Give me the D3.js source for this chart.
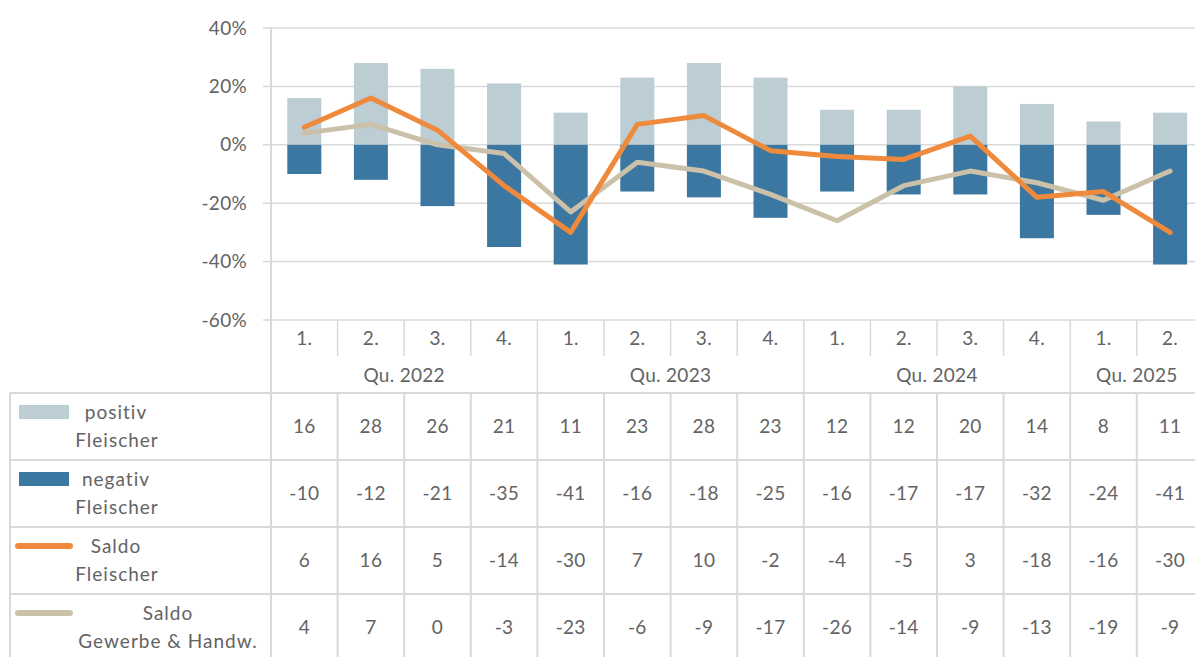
<!DOCTYPE html>
<html>
<head>
<meta charset="utf-8">
<script src="https://cdn.jsdelivr.net/npm/d3@7"></script>
<style>
  body { margin: 0; background: #fff; }
  svg { display: block; font-family: Lato, "Open Sans", sans-serif; letter-spacing: 0.3px; }
</style>
</head>
<body>
<div id="chart"></div>
<script>
var quarters = ['1.', '2.', '3.', '4.', '1.', '2.', '3.', '4.', '1.', '2.', '3.', '4.', '1.', '2.'];
var years = [
  { label: 'Qu. 2022', n: 4 },
  { label: 'Qu. 2023', n: 4 },
  { label: 'Qu. 2024', n: 4 },
  { label: 'Qu. 2025', n: 2 }
];
var positiv = [16, 28, 26, 21, 11, 23, 28, 23, 12, 12, 20, 14, 8, 11];
var negativ = [-10, -12, -21, -35, -41, -16, -18, -25, -16, -17, -17, -32, -24, -41];
var saldoFleischer = [6, 16, 5, -14, -30, 7, 10, -2, -4, -5, 3, -18, -16, -30];
var saldoGewerbe = [4, 7, 0, -3, -23, -6, -9, -17, -26, -14, -9, -13, -19, -9];
var yTicks = [-60, -40, -20, 0, 20, 40];

var W = 1195, H = 657;
var left = 271, colW = 66.6;
var textCol = '#636363', gridCol = '#d9d9d9';
var cLight = '#bccdd3', cDark = '#3b77a0', cOrange = '#ef8a3d', cBeige = '#cbc1a8';

var svg = d3.select('#chart').append('svg')
  .attr('width', W)
  .attr('height', H);

var x = d3.scaleBand()
  .domain(d3.range(quarters.length))
  .range([left, left + colW * quarters.length]);

var y = d3.scaleLinear().domain([-60, 40]).range([320, 28]);

// gridlines
svg.selectAll('line.grid')
  .data(yTicks)
  .enter().append('line')
  .attr('x1', 263).attr('x2', W)
  .attr('y1', function(d) { return y(d); })
  .attr('y2', function(d) { return y(d); })
  .attr('stroke', gridCol).attr('stroke-width', 1.5);

svg.selectAll('text.ytick')
  .data(yTicks)
  .enter().append('text')
  .attr('x', 247)
  .attr('y', function(d) { return y(d); })
  .attr('dy', '0.35em')
  .attr('text-anchor', 'end')
  .attr('font-size', 19)
  .attr('fill', textCol)
  .text(function(d) { return d + '%'; });

// bars
var bw = 34;
svg.selectAll('rect.pos')
  .data(positiv)
  .enter().append('rect')
  .attr('x', function(d, i) { return x(i) + x.bandwidth() / 2 - bw / 2; })
  .attr('y', function(d) { return y(d); })
  .attr('width', bw)
  .attr('height', function(d) { return y(0) - y(d); })
  .attr('fill', cLight);

svg.selectAll('rect.neg')
  .data(negativ)
  .enter().append('rect')
  .attr('x', function(d, i) { return x(i) + x.bandwidth() / 2 - bw / 2; })
  .attr('y', y(0))
  .attr('width', bw)
  .attr('height', function(d) { return y(d) - y(0); })
  .attr('fill', cDark);

// lines
var line = d3.line()
  .x(function(d, i) { return x(i) + x.bandwidth() / 2; })
  .y(function(d) { return y(d); });

svg.append('path').datum(saldoGewerbe)
  .attr('d', line).attr('fill', 'none')
  .attr('stroke', cBeige).attr('stroke-width', 5)
  .attr('stroke-linecap', 'round').attr('stroke-linejoin', 'round');

svg.append('path').datum(saldoFleischer)
  .attr('d', line).attr('fill', 'none')
  .attr('stroke', cOrange).attr('stroke-width', 5)
  .attr('stroke-linecap', 'round').attr('stroke-linejoin', 'round');

// category axis + table
var rowsTop = 393, rowH = 67;
var bounds = d3.range(quarters.length + 1).map(function(i) { return left + i * colW; });
var yearStarts = [0];
years.forEach(function(yr, k) { yearStarts.push(yearStarts[k] + yr.n); });

// short separators for quarter labels
svg.selectAll('line.qsep')
  .data(bounds)
  .enter().append('line')
  .attr('x1', function(d) { return d; }).attr('x2', function(d) { return d; })
  .attr('y1', 320)
  .attr('y2', function(d, i) { return yearStarts.indexOf(i) >= 0 ? rowsTop : 356; })
  .attr('stroke', gridCol).attr('stroke-width', 1.5);

// vertical axis line
svg.append('line')
  .attr('x1', left).attr('x2', left).attr('y1', 28).attr('y2', H)
  .attr('stroke', gridCol).attr('stroke-width', 2);

svg.selectAll('text.q')
  .data(quarters)
  .enter().append('text')
  .attr('x', function(d, i) { return x(i) + x.bandwidth() / 2; })
  .attr('y', 338).attr('dy', '0.35em')
  .attr('text-anchor', 'middle')
  .attr('font-size', 19).attr('fill', textCol)
  .text(function(d) { return d; });

svg.selectAll('text.yr')
  .data(years)
  .enter().append('text')
  .attr('x', function(d, k) { return (bounds[yearStarts[k]] + bounds[yearStarts[k + 1]]) / 2; })
  .attr('y', 375).attr('dy', '0.35em')
  .attr('text-anchor', 'middle')
  .attr('font-size', 19).attr('fill', textCol)
  .text(function(d) { return d.label; });

// table grid
var rowLines = d3.range(5).map(function(k) { return rowsTop + k * rowH; });
svg.selectAll('line.hrow')
  .data(rowLines)
  .enter().append('line')
  .attr('x1', 10).attr('x2', W)
  .attr('y1', function(d) { return d; }).attr('y2', function(d) { return d; })
  .attr('stroke', gridCol).attr('stroke-width', 2);

svg.selectAll('line.vcol')
  .data(bounds)
  .enter().append('line')
  .attr('x1', function(d) { return d; }).attr('x2', function(d) { return d; })
  .attr('y1', rowsTop).attr('y2', H)
  .attr('stroke', gridCol).attr('stroke-width', 2);

svg.append('line')
  .attr('x1', 10).attr('x2', 10).attr('y1', rowsTop).attr('y2', H)
  .attr('stroke', gridCol).attr('stroke-width', 2);

var rows = [
  { vals: positiv, kind: 'rect', color: cLight, l1: 'positiv', l2: 'Fleischer', c1: 116, c2: 117 },
  { vals: negativ, kind: 'rect', color: cDark, l1: 'negativ', l2: 'Fleischer', c1: 116, c2: 117 },
  { vals: saldoFleischer, kind: 'line', color: cOrange, l1: 'Saldo', l2: 'Fleischer', c1: 116, c2: 117 },
  { vals: saldoGewerbe, kind: 'line', color: cBeige, l1: 'Saldo', l2: 'Gewerbe & Handw.', c1: 168, c2: 168 }
];

rows.forEach(function(r, k) {
  var top = rowsTop + k * rowH;
  if (r.kind === 'rect') {
    svg.append('rect').attr('x', 19).attr('y', top + 12)
      .attr('width', 50).attr('height', 14).attr('fill', r.color);
  } else {
    svg.append('line').attr('x1', 18).attr('x2', 70)
      .attr('y1', top + 19).attr('y2', top + 19)
      .attr('stroke', r.color).attr('stroke-width', 6).attr('stroke-linecap', 'round');
  }
  svg.append('text').attr('x', r.c1).attr('y', top + 19).attr('dy', '0.35em')
    .attr('text-anchor', 'middle').attr('font-size', 19).attr('fill', textCol)
    .attr('letter-spacing', 1).text(r.l1);
  svg.append('text').attr('x', r.c2).attr('y', top + 47).attr('dy', '0.35em')
    .attr('text-anchor', 'middle').attr('font-size', 19).attr('fill', textCol)
    .attr('letter-spacing', 1).text(r.l2);

  svg.selectAll('text.v' + k)
    .data(r.vals)
    .enter().append('text')
    .attr('x', function(d, i) { return x(i) + x.bandwidth() / 2; })
    .attr('y', top + rowH / 2).attr('dy', '0.35em')
    .attr('text-anchor', 'middle')
    .attr('font-size', 19).attr('fill', textCol)
    .text(function(d) { return d; });
});
</script>
</body>
</html>
